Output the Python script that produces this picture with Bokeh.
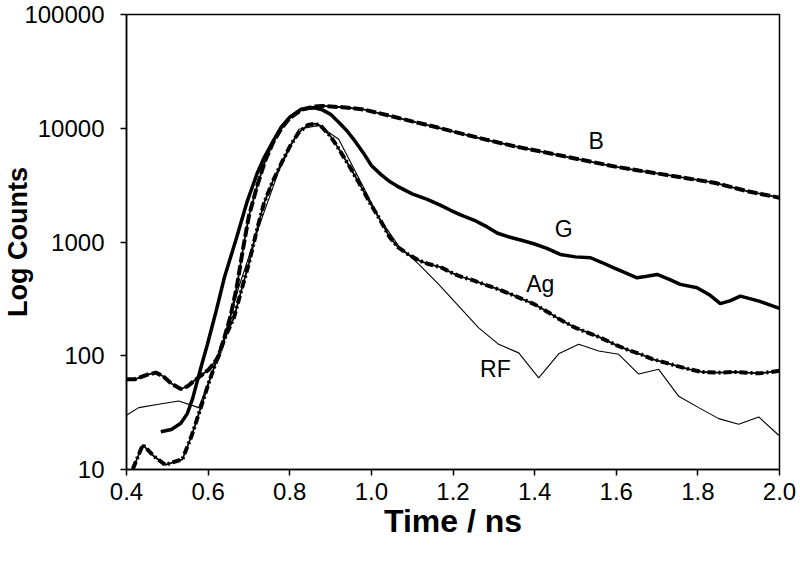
from bokeh.plotting import figure
from bokeh.models import Range1d, FixedTicker, PrintfTickFormatter
from bokeh.core.properties import value
from bokeh.embed import file_html
from bokeh.resources import INLINE

# ---- data ----
b_x = [0.40, 0.42, 0.45, 0.472, 0.49, 0.51, 0.533, 0.55, 0.565, 0.585, 0.602, 0.625,
       0.64, 0.655, 0.67, 0.685, 0.70, 0.72, 0.74, 0.76, 0.78, 0.80, 0.83, 0.86, 0.88,
       0.93, 0.98, 1.04, 1.10, 1.16, 1.23, 1.29, 1.35, 1.41, 1.47, 1.53, 1.59, 1.655,
       1.715, 1.78, 1.84, 1.88, 1.92, 1.96, 2.0]
b_y = [62, 62, 68, 71, 66, 57, 51, 54, 60, 68, 76, 97,
       145, 223, 400, 850, 1700, 3100, 5200, 7600, 10000, 12300, 14600, 15500, 15700,
       15300, 14650, 13000, 11500, 10200, 8800, 7800, 6950, 6300, 5700, 5150, 4650, 4250,
       3930, 3600, 3320, 3050, 2800, 2620, 2450]

g_x = [0.484, 0.51, 0.533, 0.549, 0.562, 0.582, 0.598, 0.62, 0.64, 0.67, 0.696, 0.72,
       0.737, 0.76, 0.778, 0.80, 0.827, 0.845, 0.86, 0.88, 0.90, 0.92, 0.94, 0.96, 0.98,
       1.0, 1.023, 1.045, 1.063, 1.10, 1.137, 1.17, 1.194, 1.22, 1.251, 1.28, 1.308, 1.34,
       1.37, 1.40, 1.43, 1.463, 1.50, 1.537, 1.565, 1.594, 1.62, 1.651, 1.675, 1.70, 1.73,
       1.757, 1.798, 1.83, 1.855, 1.88, 1.904, 1.95, 2.0]
g_y = [21.5, 22.5, 25.5, 31, 42, 78, 125, 250, 490, 1100, 2290, 4000,
       5500, 7800, 10100, 12500, 14650, 15000, 15100, 14500, 13250, 11300, 9500, 7700, 6100,
       4700, 3930, 3400, 3100, 2650, 2370, 2100, 1900, 1720, 1560, 1380, 1200, 1100,
       1030, 960, 880, 778, 740, 727, 660, 593, 540, 484, 500, 518, 470,
       424, 396, 340, 287, 305, 334, 302, 261]

ag_x = [0.40, 0.415, 0.44, 0.468, 0.495, 0.537, 0.56, 0.582, 0.603, 0.623, 0.643, 0.663,
        0.68, 0.70, 0.72, 0.737, 0.758, 0.778, 0.80, 0.822, 0.845, 0.862, 0.876, 0.90,
        0.92, 0.945, 0.97, 1.0, 1.023, 1.045, 1.065, 1.09, 1.116, 1.14, 1.17, 1.20, 1.22,
        1.25, 1.28, 1.31, 1.34, 1.37, 1.40, 1.43, 1.46, 1.50, 1.53, 1.56, 1.60, 1.63, 1.66,
        1.69, 1.72, 1.75, 1.78, 1.81, 1.85, 1.89, 1.92, 1.95, 1.98, 2.0]
ag_y = [7.5, 10, 16.5, 13, 11, 12.3, 20, 35, 60, 96, 150, 215,
        360, 650, 1300, 2200, 3400, 4800, 6900, 9200, 10700, 11000, 10500, 8500,
        6600, 4700, 3300, 2100, 1530, 1100, 900, 780, 690, 640, 600, 530, 495,
        460, 420, 385, 350, 315, 283, 245, 210, 176, 160, 145, 124, 112, 103,
        93, 87, 81, 76, 72, 71, 72, 71, 70, 72, 74]

rf_x = [0.40, 0.430, 0.479, 0.528, 0.577, 0.626, 0.675, 0.724, 0.773, 0.822, 0.871, 0.920,
        0.969, 1.018, 1.067, 1.116, 1.165, 1.214, 1.263, 1.312, 1.361, 1.410, 1.459, 1.508,
        1.557, 1.606, 1.655, 1.704, 1.753, 1.802, 1.851, 1.900, 1.949, 1.998]
rf_y = [30, 35, 37.5, 40, 35, 100, 400, 1350, 4200, 9800, 10600, 8000,
        3650, 1660, 920, 640, 424, 273, 176, 126, 106, 64, 104, 126,
        110, 103, 69, 76, 44, 35, 28, 25, 29, 20]

label_text = ["B", "G", "Ag", "RF"]
label_x = [1.551, 1.471, 1.414, 1.304]
label_y = [7700, 1290, 424, 76]

x_ticks = [0.4, 0.6, 0.8, 1.0, 1.2, 1.4, 1.6, 1.8, 2.0]
y_ticks = [10, 100, 1000, 10000, 100000]

FONT = "Liberation Sans"

p = figure(width=796, height=564, x_range=Range1d(0.4, 2.0), y_range=Range1d(10, 100000),
           y_axis_type="log", output_backend="svg", toolbar_location=None,
           min_border_left=126, min_border_right=17, min_border_top=14, min_border_bottom=95)

p.xgrid.visible = False
p.ygrid.visible = False
p.outline_line_color = "black"
p.outline_line_width = 1.5
p.outline_line_alpha = 1.0
p.background_fill_color = "white"
p.border_fill_color = "white"

# curves
p.line(rf_x, rf_y, line_color="black", line_width=1.1)
p.line(ag_x, ag_y, line_color="black", line_width=1.8)
p.line(ag_x, ag_y, line_color="black", line_width=4, line_dash="8 3 2 3")
p.line(b_x, b_y, line_color="black", line_width=1.8)
p.line(b_x, b_y, line_color="black", line_width=4, line_dash="10 3")
p.line(g_x, g_y, line_color="black", line_width=3.5)

p.text(x=label_x, y=label_y, text=label_text, text_font=value(FONT),
       text_font_size="23px", text_align="center", text_baseline="middle",
       text_color="black")

for ax in (p.xaxis[0], p.yaxis[0]):
    ax.major_tick_out = 6
    ax.major_tick_in = 0
    ax.minor_tick_out = 0
    ax.minor_tick_in = 0
    ax.axis_line_width = 1.5
    ax.major_tick_line_width = 1.5
    ax.axis_line_color = "black"
    ax.major_tick_line_color = "black"
    ax.major_label_text_font = FONT
    ax.major_label_text_font_size = "24px"
    ax.major_label_text_color = "black"
    ax.axis_label_text_font = FONT
    ax.axis_label_text_font_style = "bold"
    ax.axis_label_text_color = "black"

p.xaxis.ticker = FixedTicker(ticks=x_ticks)
p.xaxis.formatter = PrintfTickFormatter(format="%.1f")
p.xaxis.axis_label = "Time / ns"
p.xaxis.axis_label_text_font_size = "32px"
p.xaxis.major_label_standoff = 7
p.xaxis.axis_label_standoff = 0

p.yaxis.ticker = FixedTicker(ticks=y_ticks)
p.yaxis.formatter = PrintfTickFormatter(format="%d")
p.yaxis.axis_label = "Log Counts"
p.yaxis.axis_label_text_font_size = "27px"
p.yaxis.major_label_standoff = 16
p.yaxis.axis_label_standoff = -12

open("out.html", "w").write(file_html(p, INLINE))
